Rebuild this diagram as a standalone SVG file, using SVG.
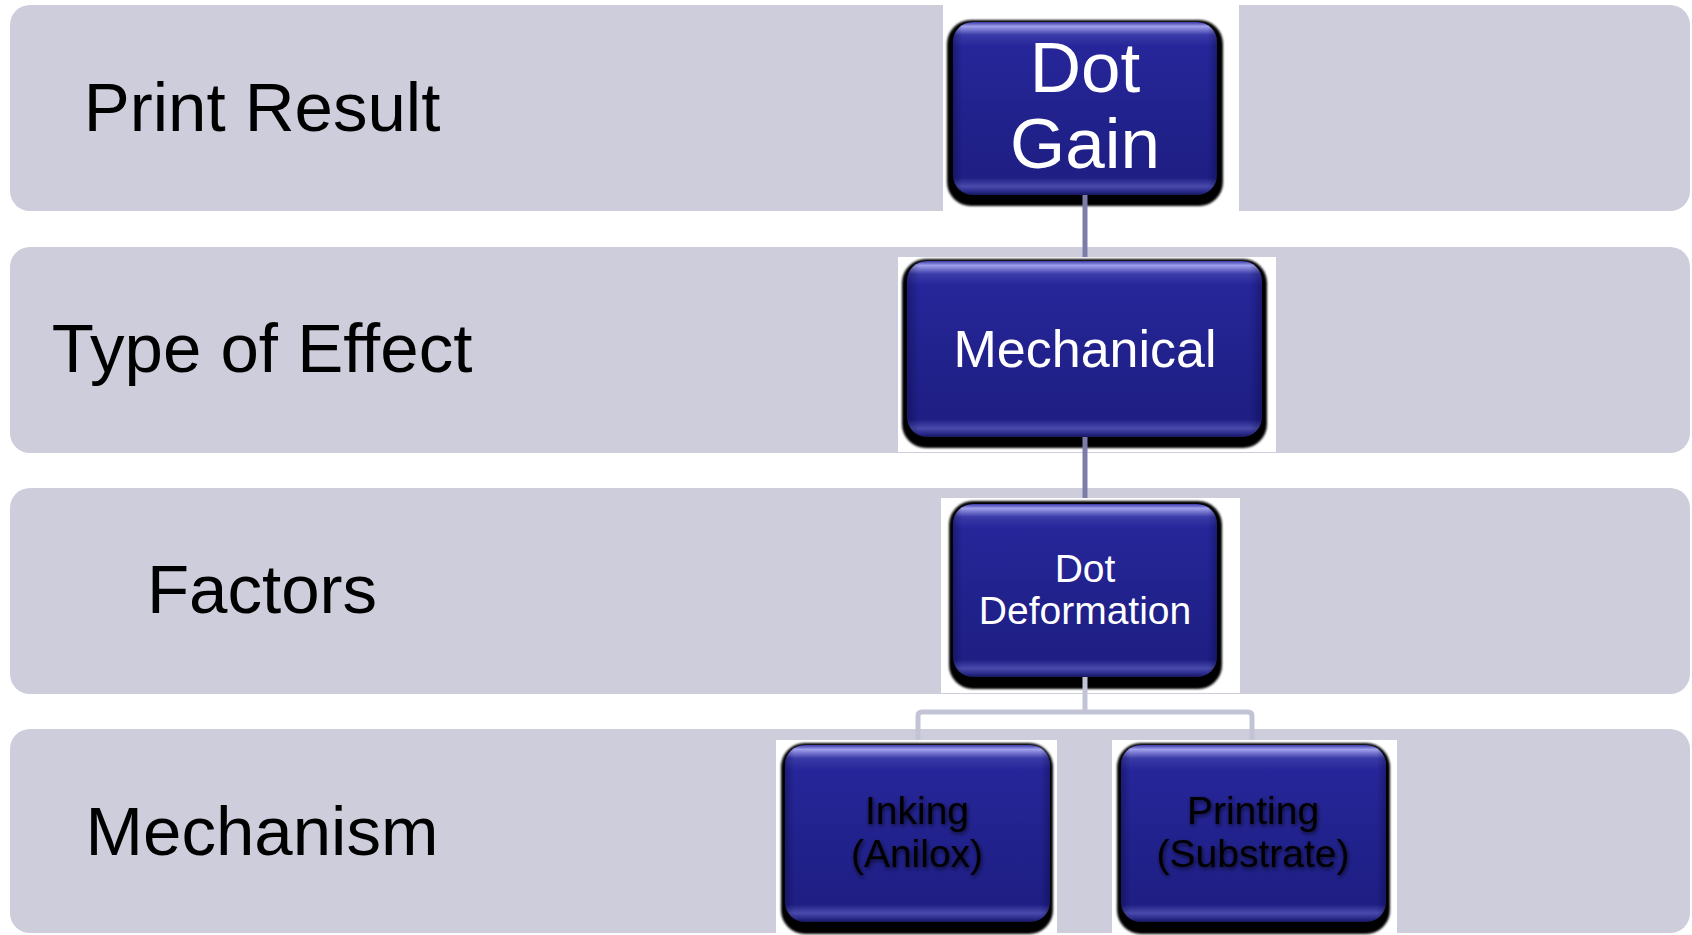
<svg xmlns="http://www.w3.org/2000/svg" width="1692" height="935" viewBox="0 0 1692 935">
  <defs>
    <linearGradient id="faceGrad" x1="0" y1="0" x2="0" y2="1">
      <stop offset="0" stop-color="#3a3aa8"/>
      <stop offset="0.025" stop-color="#a0a0ec"/>
      <stop offset="0.075" stop-color="#3a3aa8"/>
      <stop offset="0.14" stop-color="#26269a"/>
      <stop offset="0.5" stop-color="#22228e"/>
      <stop offset="0.9" stop-color="#1e1e84"/>
      <stop offset="0.95" stop-color="#4a4aac"/>
      <stop offset="0.98" stop-color="#2a2a8a"/>
      <stop offset="1" stop-color="#16165e"/>
    </linearGradient>
    <linearGradient id="sideGrad" x1="0" y1="0" x2="1" y2="0">
      <stop offset="0" stop-color="#000028" stop-opacity="0.3"/>
      <stop offset="0.035" stop-color="#000028" stop-opacity="0"/>
      <stop offset="0.965" stop-color="#000028" stop-opacity="0"/>
      <stop offset="1" stop-color="#000028" stop-opacity="0.3"/>
    </linearGradient>
    <filter id="soft" x="-5%" y="-5%" width="110%" height="110%">
      <feGaussianBlur stdDeviation="1"/>
    </filter>
    <filter id="textGlow" x="-10%" y="-20%" width="120%" height="140%">
      <feGaussianBlur in="SourceAlpha" stdDeviation="2"/>
      <feOffset dx="1" dy="2" result="b"/>
      <feComponentTransfer><feFuncA type="linear" slope="0.7"/></feComponentTransfer>
      <feMerge><feMergeNode/><feMergeNode in="SourceGraphic"/></feMerge>
    </filter>
  </defs>
  <style>
    .band { fill: #cdcddb; }
    .label { font-family: "Liberation Sans", Arial, sans-serif; font-size: 69px; fill: #000; text-anchor: middle; }
    .backing { fill: #ffffff; }
    .shadow { fill: #000000; filter: url(#soft); }
    .face { fill: url(#faceGrad); }
    .side { fill: url(#sideGrad); }
    .ntext { font-family: "Liberation Sans", Arial, sans-serif; fill: #ffffff; text-anchor: middle; }
    .dtext { font-family: "Liberation Sans", Arial, sans-serif; fill: #000000; text-anchor: middle; font-size: 39px; filter: url(#textGlow); }
    .conn-dark { fill: none; stroke: #7c7ca8; stroke-width: 5; }
    .conn-light { fill: none; stroke: #c3c3d6; stroke-width: 5; stroke-linejoin: round; }
  </style>

  <!-- level bands with their row labels -->
  <g id="bands">
    <rect class="band" x="10" y="5" width="1680" height="206" rx="20"/>
    <rect class="band" x="10" y="247" width="1680" height="206" rx="20"/>
    <rect class="band" x="10" y="488" width="1680" height="206" rx="20"/>
    <rect class="band" x="10" y="729" width="1680" height="204" rx="20"/>
    <text class="label" x="262" y="131">Print Result</text>
    <text class="label" x="262" y="372">Type of Effect</text>
    <text class="label" x="262" y="613">Factors</text>
    <text class="label" x="262" y="855">Mechanism</text>
  </g>

  <!-- white backings and dark drop shadows under each box -->
  <g id="node-bases">
    <rect class="backing" x="943" y="5" width="296" height="206"/>
    <rect class="backing" x="898" y="257" width="378" height="195"/>
    <rect class="backing" x="941" y="498" width="299" height="195"/>
    <rect class="backing" x="776" y="740" width="281" height="195"/>
    <rect class="backing" x="1112" y="740" width="285" height="195"/>
    <rect class="shadow" x="947" y="20" width="276" height="186" rx="24"/>
    <rect class="shadow" x="902" y="259" width="365" height="189" rx="24"/>
    <rect class="shadow" x="949" y="501" width="273" height="188" rx="24"/>
    <rect class="shadow" x="781" y="743" width="272" height="191" rx="24"/>
    <rect class="shadow" x="1117" y="743" width="273" height="191" rx="24"/>
  </g>

  <!-- connectors -->
  <g id="connectors">
    <line class="conn-dark" x1="1085" y1="195" x2="1085" y2="257"/>
    <line class="conn-dark" x1="1085" y1="437" x2="1085" y2="498"/>
    <path class="conn-light" d="M1085 677 V712 M918 740 V716 Q918 712 922 712 H1248 Q1252 712 1252 716 V740"/>
  </g>

  <g id="node-dot-gain">
    <rect class="face" x="953" y="22" width="264" height="173" rx="20"/>
    <rect class="side" x="953" y="22" width="264" height="173" rx="20"/>
    <text class="ntext" font-size="71" x="1085" y="92">Dot</text>
    <text class="ntext" font-size="71" x="1085" y="168">Gain</text>
  </g>

  <g id="node-mechanical">
    <rect class="face" x="907" y="261" width="355" height="176" rx="20"/>
    <rect class="side" x="907" y="261" width="355" height="176" rx="20"/>
    <text class="ntext" font-size="52" x="1085" y="367">Mechanical</text>
  </g>

  <g id="node-dot-deformation">
    <rect class="face" x="953" y="504" width="264" height="173" rx="20"/>
    <rect class="side" x="953" y="504" width="264" height="173" rx="20"/>
    <text class="ntext" font-size="39" x="1085" y="582">Dot</text>
    <text class="ntext" font-size="39" x="1085" y="624">Deformation</text>
  </g>

  <g id="node-inking">
    <rect class="face" x="785" y="745" width="265" height="177" rx="20"/>
    <rect class="side" x="785" y="745" width="265" height="177" rx="20"/>
    <text class="dtext" x="917" y="824">Inking</text>
    <text class="dtext" x="917" y="867">(Anilox)</text>
  </g>

  <g id="node-printing">
    <rect class="face" x="1121" y="745" width="265" height="177" rx="20"/>
    <rect class="side" x="1121" y="745" width="265" height="177" rx="20"/>
    <text class="dtext" x="1253" y="824">Printing</text>
    <text class="dtext" x="1253" y="867">(Substrate)</text>
  </g>
</svg>
